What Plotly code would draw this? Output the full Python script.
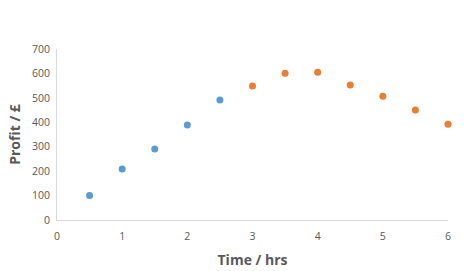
import plotly.graph_objects as go

x_blue = [0.5, 1.0, 1.5, 2.0, 2.5]
y_blue = [100, 209, 291, 389, 491]
x_orange = [3.0, 3.5, 4.0, 4.5, 5.0, 5.5, 6.0]
y_orange = [549, 601, 605, 553, 507, 450, 392]
x_ticks = [0, 1, 2, 3, 4, 5, 6]
y_ticks = [0, 100, 200, 300, 400, 500, 600, 700]

fig = go.Figure()
fig.add_trace(go.Scatter(x=x_blue, y=y_blue, mode="markers",
                         marker=dict(color="#5B9BD5", size=7), cliponaxis=False))
fig.add_trace(go.Scatter(x=x_orange, y=y_orange, mode="markers",
                         marker=dict(color="#ED7D31", size=7), cliponaxis=False))

font_fam = "Open Sans, Liberation Sans, sans-serif"
fig.update_layout(
    width=464, height=271,
    margin=dict(l=57, r=16, t=49, b=51),
    paper_bgcolor="white", plot_bgcolor="white",
    showlegend=False,
    font=dict(family=font_fam, color="#595959", size=10.5),
)
fig.update_xaxes(range=[0, 6], tickvals=x_ticks, showgrid=False, zeroline=False,
                 showline=True, linecolor="#D9D9D9", linewidth=1, ticks="",
                 ticklabelstandoff=6, automargin=False,
                 title=dict(text="<b>Time / hrs</b>", font=dict(size=14, color="#595959"), standoff=13))
fig.update_yaxes(range=[0, 700], tickvals=y_ticks, showgrid=False, zeroline=False,
                 showline=True, linecolor="#D9D9D9", linewidth=1, ticks="",
                 ticklabelstandoff=4, automargin=False,
                 title=dict(text="<b>Profit / £</b>", font=dict(size=14, color="#595959"), standoff=7))

fig.write_html("out.html")
